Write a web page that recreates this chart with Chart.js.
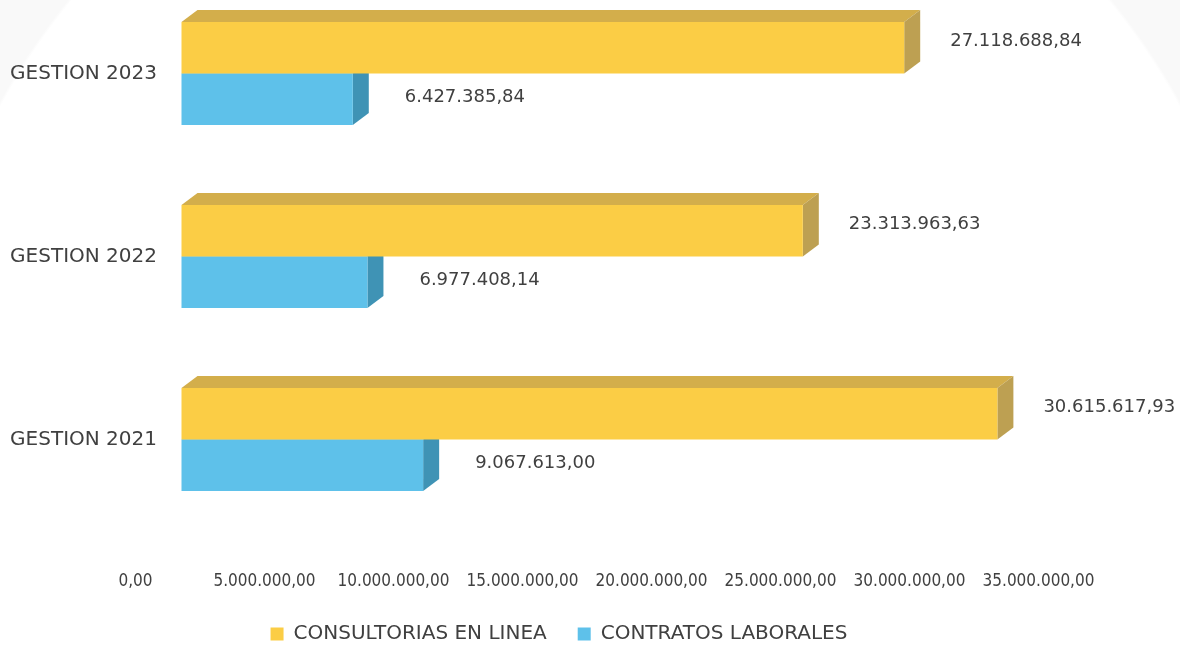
<!DOCTYPE html>
<html lang="es">
<head>
<meta charset="utf-8">
<title>Consultorías y contratos por gestión</title>
<script src="https://cdn.jsdelivr.net/npm/chart.js@4.4.1/dist/chart.umd.min.js"></script>
<style>
  html, body { margin: 0; padding: 0; }
  body {
    width: 1180px;
    height: 647px;
    overflow: hidden;
    background: radial-gradient(circle 672px at 590px 425px, #ffffff 670px, #f9f9f9 673px);
  }
  #chart-wrap { position: relative; width: 1180px; height: 647px; }
</style>
</head>
<body>
<div id="chart-wrap"><canvas id="gestionChart" width="1180" height="647"></canvas></div>
<script>
// Categories, top to bottom
const categories = ['GESTION 2023', 'GESTION 2022', 'GESTION 2021'];

// Amounts per year
const consultoriasEnLinea = [27118688.84, 23313963.63, 30615617.93];
const contratosLaborales = [6427385.84, 6977408.14, 9067613.00];

// Values shown on the bottom axis
const axisTicks = [0, 5000000, 10000000, 15000000, 20000000, 25000000, 30000000, 35000000];

// Depth of the extruded bar faces, in pixels
const DEPTH_X = 16;
const DEPTH_Y = 12;

const TEXT_COLOR = '#404040';

// 1234567.8 -> "1.234.567,80"
function formatAmount(v) {
    const parts = Math.abs(v).toFixed(2).split('.');
    const intPart = parts[0].replace(/\B(?=(\d{3})+(?!\d))/g, '.');
    return (v < 0 ? '-' : '') + intPart + ',' + parts[1];
}

// Draws the top and right faces of each bar before the front faces go on top
const bar3d = {
    id: 'bar3d',
    beforeDatasetsDraw(chart) {
        const ctx = chart.ctx;
        chart.data.datasets.forEach((ds, i) => {
            const meta = chart.getDatasetMeta(i);
            if (meta.hidden) return;
            meta.data.forEach(bar => {
                const { x, y, base, height } = bar.getProps(['x', 'y', 'base', 'height'], true);
                const top = y - height / 2;
                const bottom = y + height / 2;
                ctx.save();
                ctx.fillStyle = ds.topColor;
                ctx.beginPath();
                ctx.moveTo(base, top);
                ctx.lineTo(base + DEPTH_X, top - DEPTH_Y);
                ctx.lineTo(x + DEPTH_X, top - DEPTH_Y);
                ctx.lineTo(x, top);
                ctx.closePath();
                ctx.fill();
                ctx.fillStyle = ds.sideColor;
                ctx.beginPath();
                ctx.moveTo(x, top);
                ctx.lineTo(x + DEPTH_X, top - DEPTH_Y);
                ctx.lineTo(x + DEPTH_X, bottom - DEPTH_Y);
                ctx.lineTo(x, bottom);
                ctx.closePath();
                ctx.fill();
                ctx.restore();
            });
        });
    }
};

// Amount written to the right of every bar
const valueLabels = {
    id: 'valueLabels',
    afterDatasetsDraw(chart) {
        const ctx = chart.ctx;
        ctx.save();
        ctx.font = '18px "DejaVu Sans", sans-serif';
        ctx.fillStyle = TEXT_COLOR;
        ctx.textAlign = 'left';
        ctx.textBaseline = 'middle';
        chart.data.datasets.forEach((ds, i) => {
            const meta = chart.getDatasetMeta(i);
            if (meta.hidden) return;
            meta.data.forEach((bar, j) => {
                const { x, y } = bar.getProps(['x', 'y'], true);
                ctx.fillText(formatAmount(ds.data[j]), x + ds.labelDx, y + ds.labelDy);
            });
        });
        ctx.restore();
    }
};

Chart.defaults.font.family = '"DejaVu Sans", sans-serif';
Chart.defaults.color = TEXT_COLOR;

const ctx = document.getElementById('gestionChart').getContext('2d');
new Chart(ctx, {
    type: 'bar',
    data: {
        labels: categories,
        datasets: [
            {
                label: 'CONSULTORIAS EN LINEA',
                data: consultoriasEnLinea,
                backgroundColor: '#fbcd45',
                topColor: '#d3ae4b',
                sideColor: '#bda052',
                labelDx: 46,
                labelDy: -6,
                borderWidth: 0
            },
            {
                label: 'CONTRATOS LABORALES',
                data: contratosLaborales,
                backgroundColor: '#5ec1ea',
                topColor: '#4aa6cc',
                sideColor: '#3f93b5',
                labelDx: 52,
                labelDy: -2,
                borderWidth: 0
            }
        ]
    },
    options: {
        indexAxis: 'y',
        responsive: false,
        animation: false,
        events: [],
        clip: false,
        categoryPercentage: 0.563,
        barPercentage: 1,
        layout: {
            padding: { left: 0, right: 62, top: 73.5, bottom: -7 }
        },
        plugins: {
            legend: {
                position: 'bottom',
                labels: {
                    boxWidth: 13,
                    boxHeight: 13,
                    padding: 31,
                    color: TEXT_COLOR,
                    font: { size: 20 }
                }
            },
            tooltip: { enabled: false }
        },
        scales: {
            // value scale the bars are drawn on (zero sits a little right of the plot edge)
            x: {
                type: 'linear',
                position: 'bottom',
                display: false,
                min: -881800,
                max: 32158000
            },
            // scale carrying the printed amounts
            xTicks: {
                type: 'linear',
                position: 'bottom',
                min: 872000,
                max: 35000000,
                grid: { display: false, drawTicks: true, tickLength: 132 },
                border: { display: false },
                afterBuildTicks: scale => {
                    scale.ticks = axisTicks.map(v => ({ value: v }));
                },
                afterFit: scale => { scale.height = 153.5; },
                ticks: {
                    autoSkip: false,
                    maxRotation: 0,
                    padding: 0,
                    color: TEXT_COLOR,
                    font: { family: '"DejaVu Sans Condensed", "Liberation Sans", sans-serif', size: 17 },
                    callback: value => formatAmount(value)
                }
            },
            y: {
                type: 'category',
                offset: false,
                grid: { display: false, drawTicks: false },
                border: { display: false },
                afterFit: scale => { scale.width = 158; },
                ticks: {
                    padding: 1,
                    color: TEXT_COLOR,
                    font: { size: 20 }
                }
            },
            // empty right-hand strip keeping room for the amount labels
            rightGap: {
                type: 'linear',
                position: 'right',
                grid: { display: false, drawTicks: false },
                border: { display: false },
                ticks: { display: false },
                afterFit: scale => { scale.width = 79.5; }
            }
        }
    },
    plugins: [bar3d, valueLabels]
});
</script>
</body>
</html>
